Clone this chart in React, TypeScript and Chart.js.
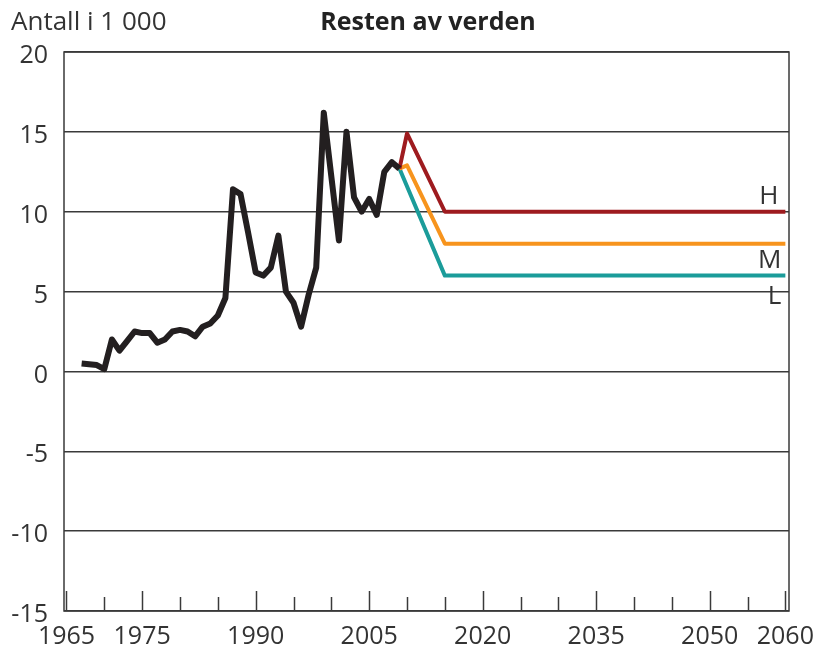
import React, { useEffect, useRef } from "react";
import { Chart, registerables } from "chart.js";

Chart.register(...registerables);

// ---- Data ----
const histYears = [
  1967, 1968, 1969, 1970, 1971, 1972, 1973, 1974, 1975, 1976, 1977, 1978, 1979, 1980,
  1981, 1982, 1983, 1984, 1985, 1986, 1987, 1988, 1989, 1990, 1991, 1992, 1993, 1994,
  1995, 1996, 1997, 1998, 1999, 2000, 2001, 2002, 2003, 2004, 2005, 2006, 2007, 2008, 2009,
];
const histValues = [
  0.5, 0.45, 0.4, 0.15, 2.0, 1.3, 1.9, 2.5, 2.4, 2.4, 1.8, 2.0, 2.5, 2.6,
  2.5, 2.2, 2.8, 3.0, 3.5, 4.6, 11.4, 11.1, 8.7, 6.2, 6.0, 6.5, 8.5, 5.0,
  4.3, 2.8, 4.8, 6.5, 16.2, 12.2, 8.2, 15.0, 10.9, 10.0, 10.8, 9.8, 12.5, 13.1, 12.7,
];
const highYears = [2009, 2010, 2015, 2060];
const highValues = [12.7, 14.9, 10, 10];
const midYears = [2009, 2010, 2015, 2060];
const midValues = [12.7, 12.9, 8, 8];
const lowYears = [2009, 2015, 2060];
const lowValues = [12.7, 6, 6];

const seriesLabels = ["H", "M", "L"];
const yTickValues = [-15, -10, -5, 0, 5, 10, 15, 20];
const xTickYears = [
  1965, 1970, 1975, 1980, 1985, 1990, 1995, 2000, 2005, 2010, 2015, 2020, 2025,
  2030, 2035, 2040, 2045, 2050, 2055, 2060,
];
const xLabelYears = [1965, 1975, 1990, 2005, 2020, 2035, 2050, 2060];
const yUnitText = "Antall i 1 000";
const titleText = "Resten av verden";

// ---- Styles ----
const TEXT = "#333333";
const AXIS = "#3a3a3a";
const SANS = "'Open Sans', 'Liberation Sans', sans-serif";
const COL_H = "#9e1b1f";
const COL_M = "#f7941d";
const COL_L = "#1b9c9a";

const pts = (xs: number[], ys: number[]) => xs.map((x, i) => ({ x, y: ys[i] }));

const decorPlugin = {
  id: "decor",
  afterDraw(chart: any) {
    const ctx = chart.ctx;
    const { left, right, top, bottom } = chart.chartArea;
    const xs = chart.scales.x;
    const ys = chart.scales.y;
    ctx.save();
    // frame
    ctx.strokeStyle = AXIS;
    ctx.lineWidth = 1.5;
    ctx.strokeRect(left, top, right - left, bottom - top);
    // x tick marks (inward)
    xTickYears.forEach((yr) => {
      const x = Math.round(xs.getPixelForValue(yr)) + 0.5;
      const len = xLabelYears.includes(yr) ? 20 : 14;
      ctx.beginPath();
      ctx.moveTo(x, bottom);
      ctx.lineTo(x, bottom - len);
      ctx.stroke();
    });
    // header texts
    ctx.fillStyle = TEXT;
    ctx.textBaseline = "alphabetic";
    ctx.textAlign = "left";
    ctx.font = `26px ${SANS}`;
    ctx.fillText(yUnitText, 11, 30);
    ctx.textAlign = "center";
    ctx.font = `bold 25px ${SANS}`;
    ctx.fillStyle = "#222222";
    ctx.fillText(titleText, 428, 30);
    // series labels
    ctx.fillStyle = TEXT;
    ctx.textAlign = "right";
    ctx.font = `26px ${SANS}`;
    const lastH = highValues[highValues.length - 1];
    const lastM = midValues[midValues.length - 1];
    const lastL = lowValues[lowValues.length - 1];
    const xr = xs.getPixelForValue(2060) - 7;
    ctx.fillText(seriesLabels[0], xr, ys.getPixelForValue(lastH) - 8);
    ctx.fillText(seriesLabels[1], xr + 3, ys.getPixelForValue(lastM) + 24);
    ctx.fillText(seriesLabels[2], xr + 3, ys.getPixelForValue(lastL) + 28);
    ctx.restore();
  },
};

export default function App() {
  const ref = useRef<HTMLCanvasElement | null>(null);
  useEffect(() => {
    if (!ref.current) return;
    const chart = new Chart(ref.current, {
      type: "line",
      data: {
        datasets: [
          {
            label: "Historikk",
            data: pts(histYears, histValues),
            borderColor: "#231f20",
            borderWidth: 6,
            pointRadius: 0,
            borderJoinStyle: "round",
            tension: 0,
            order: 0,
          },
          {
            label: seriesLabels[0],
            data: pts(highYears, highValues),
            borderColor: COL_H,
            borderWidth: 4,
            pointRadius: 0,
            borderJoinStyle: "round",
            order: 1,
          },
          {
            label: seriesLabels[1],
            data: pts(midYears, midValues),
            borderColor: COL_M,
            borderWidth: 4,
            pointRadius: 0,
            borderJoinStyle: "round",
            order: 2,
          },
          {
            label: seriesLabels[2],
            data: pts(lowYears, lowValues),
            borderColor: COL_L,
            borderWidth: 4,
            pointRadius: 0,
            borderJoinStyle: "round",
            order: 3,
          },
        ],
      },
      options: {
        animation: false,
        responsive: false,
        parsing: false as any,
        layout: { padding: { left: 0, top: 52, right: 30, bottom: 0 } },
        plugins: { legend: { display: false }, tooltip: { enabled: false }, title: { display: false } },
        scales: {
          x: {
            type: "linear",
            min: 1964.67,
            max: 2060.48,
            grid: { display: false, drawTicks: false },
            border: { display: false },
            afterBuildTicks: (scale: any) => {
              scale.ticks = xLabelYears.map((v) => ({ value: v }));
            },
            afterFit: (scale: any) => {
              scale.height = 40;
              scale.paddingLeft = 0;
              scale.paddingRight = 0;
            },
            ticks: {
              autoSkip: false,
              maxRotation: 0,
              minRotation: 0,
              padding: 11,
              color: TEXT,
              font: { family: SANS, size: 25 },
              callback: (v: any) => String(v),
            },
          },
          y: {
            type: "linear",
            min: -15,
            max: 20,
            afterBuildTicks: (scale: any) => {
              scale.ticks = yTickValues.map((v) => ({ value: v }));
            },
            afterFit: (scale: any) => {
              scale.width = 64;
              scale.paddingTop = 0;
              scale.paddingBottom = 0;
            },
            grid: { color: AXIS, lineWidth: 1.4, drawTicks: false },
            border: { display: false },
            ticks: {
              padding: 16,
              labelOffset: 4,
              color: TEXT,
              font: { family: SANS, size: 25 },
              callback: (v: any) => String(v),
            },
          },
        },
      } as any,
      plugins: [decorPlugin],
    });
    return () => chart.destroy();
  }, []);
  return (
    <div style={{ position: "absolute", left: 0, top: 0, width: 819, height: 651, background: "#fff" }}>
      <canvas ref={ref} width={819} height={651} style={{ display: "block", width: 819, height: 651 }} />
    </div>
  );
}
